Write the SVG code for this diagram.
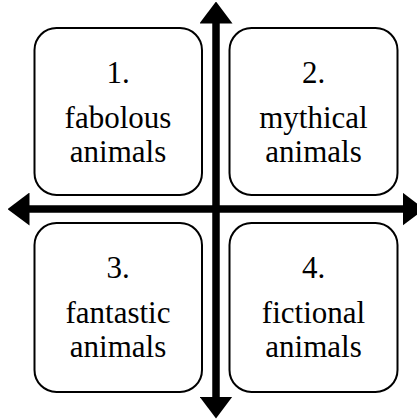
<svg xmlns="http://www.w3.org/2000/svg" width="417" height="419" viewBox="0 0 417 419">
<style>
.box{fill:#fff;stroke:#000;stroke-width:2}
.t{font-family:"Liberation Serif","Times New Roman",serif;font-size:31px;fill:#000;text-anchor:middle}
.ax{stroke:#000;stroke-width:7.5;fill:none;marker-start:url(#ah);marker-end:url(#ah)}
</style>
<defs>
<marker id="ah" markerUnits="userSpaceOnUse" markerWidth="22" markerHeight="33" viewBox="0 0 22 33" refX="0.5" refY="16.5" orient="auto-start-reverse">
<path d="M0,0 L22,16.5 L0,33 z" fill="#000"/>
</marker>
</defs>
<g id="node1"><rect class="box" x="34.5" y="28" width="167.5" height="167" rx="22"/>
<text class="t" x="118" y="83">1.</text><text class="t" x="118" y="128">fabolous</text><text class="t" x="118" y="162">animals</text></g>
<g id="node2"><rect class="box" x="229.5" y="28" width="168" height="167" rx="22"/>
<text class="t" x="313.5" y="83">2.</text><text class="t" x="313.5" y="128">mythical</text><text class="t" x="313.5" y="162">animals</text></g>
<g id="node3"><rect class="box" x="34.5" y="223" width="167.5" height="169" rx="22"/>
<text class="t" x="118" y="278">3.</text><text class="t" x="118" y="323">fantastic</text><text class="t" x="118" y="357">animals</text></g>
<g id="node4"><rect class="box" x="229.5" y="223" width="168" height="169" rx="22"/>
<text class="t" x="313.5" y="278">4.</text><text class="t" x="313.5" y="323">fictional</text><text class="t" x="313.5" y="357">animals</text></g>
<g id="connectors">
<path class="ax" d="M216,397 L216,23"/>
<path class="ax" d="M29,209 L403,209"/>
</g>
</svg>
